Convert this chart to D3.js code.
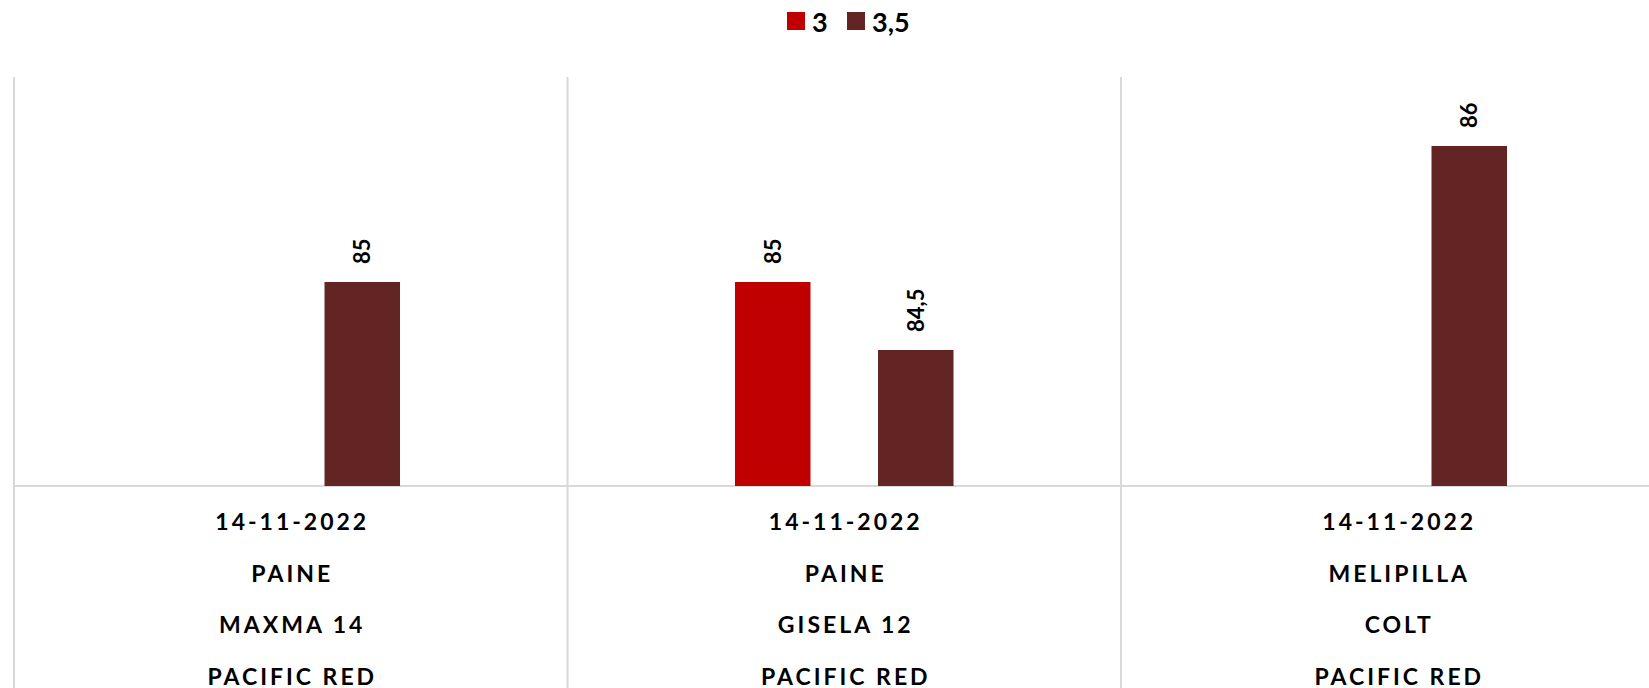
<!DOCTYPE html>
<html>
<head>
<meta charset="utf-8">
<script src="https://cdn.jsdelivr.net/npm/d3@7"></script>
<style>
  body { margin: 0; background: #fff; }
  text { font-family: Lato, "Noto Sans", sans-serif; font-weight: bold; fill: #000; }
</style>
</head>
<body>
<div id="chart"></div>
<script>
// categorias (4 lineas de etiqueta cada una)
var fechas = ['14-11-2022', '14-11-2022', '14-11-2022']
var localidades = ['PAINE', 'PAINE', 'MELIPILLA']
var portainjertos = ['MAXMA 14', 'GISELA 12', 'COLT']
var variedades = ['PACIFIC RED', 'PACIFIC RED', 'PACIFIC RED']

var series = ['3', '3,5']
var valores3 = [null, 85, null]
var valores35 = [85, 84.5, 86]
var colores = ['#C00000', '#632523']

var w = 1649
var h = 688
var margin = {top: 78, left: 14, bottom: 486}
var step = 553.5

var svg = d3.select('#chart')
    .append('svg')
    .attr('width', w)
    .attr('height', h)

var cats = d3.range(fechas.length)

var x0 = d3.scaleBand()
    .domain(cats)
    .range([margin.left, margin.left + step * cats.length])
    .padding(0)

var x1 = d3.scaleBand()
    .domain(series)
    .range([0, x0.bandwidth()])
    .paddingInner(0.472)
    .paddingOuter(1.171)

var y = d3.scaleLinear()
    .domain([83.5, 86.5])
    .range([margin.bottom, margin.top])

var z = d3.scaleOrdinal().domain(series).range(colores)

// lineas de division verticales
var bounds = cats.map(function(c) {return x0(c)})
svg.selectAll('.divider')
  .data(bounds)
  .enter().append('line')
    .attr('class', 'divider')
    .attr('x1', function(d) {return d})
    .attr('x2', function(d) {return d})
    .attr('y1', y.range()[1] - 1)
    .attr('y2', h)
    .attr('stroke', '#d9d9d9')
    .attr('stroke-width', 2)

// linea base
svg.append('line')
    .attr('x1', margin.left)
    .attr('x2', w)
    .attr('y1', y(83.5))
    .attr('y2', y(83.5))
    .attr('stroke', '#d9d9d9')
    .attr('stroke-width', 2)

var data = []
cats.forEach(function(c) {
  data.push({cat: c, serie: '3', value: valores3[c]})
  data.push({cat: c, serie: '3,5', value: valores35[c]})
})
data = data.filter(function(d) {return d.value != null})

svg.selectAll('.bar')
  .data(data)
  .enter().append('rect')
    .attr('class', 'bar')
    .attr('x', function(d) {return x0(d.cat) + x1(d.serie)})
    .attr('width', x1.bandwidth())
    .attr('y', function(d) {return y(d.value)})
    .attr('height', function(d) {return y(83.5) - y(d.value)})
    .attr('fill', function(d) {return z(d.serie)})

svg.selectAll('.label')
  .data(data)
  .enter().append('text')
    .attr('class', 'label')
    .attr('transform', function(d) {
      return 'translate(' + (x0(d.cat) + x1(d.serie) + x1.bandwidth() / 2) + ',' + (y(d.value) - 18) + ') rotate(-90)'
    })
    .attr('dy', '0.36em')
    .style('font-size', '22px')
    .text(function(d) {return String(d.value).replace('.', ',')})

// etiquetas de categoria
var lineas = [fechas, localidades, portainjertos, variedades]
lineas.forEach(function(arr, i) {
  svg.selectAll('.cat' + i)
    .data(cats)
    .enter().append('text')
      .attr('class', 'cat' + i)
      .attr('x', function(c) {return x0(c) + x0.bandwidth() / 2 + 1.5})
      .attr('y', y(83.5) + 35 + i * 51.5)
      .attr('text-anchor', 'middle')
      .attr('dominant-baseline', 'central')
      .style('font-size', '23px')
      .style('letter-spacing', '3px')
      .text(function(c) {return arr[c]})
})

// leyenda
var legend = svg.append('g').attr('transform', 'translate(787,12)')
var lx = [0, 60]
var item = legend.selectAll('.item')
  .data(series)
  .enter().append('g')
    .attr('class', 'item')
    .attr('transform', function(d, i) {return 'translate(' + lx[i] + ',0)'})
item.append('rect')
    .attr('width', 18)
    .attr('height', 18)
    .attr('fill', function(d) {return z(d)})
item.append('text')
    .attr('x', 25)
    .attr('y', 9)
    .attr('dominant-baseline', 'central')
    .style('font-size', '27px')
    .text(function(d) {return d})
</script>
</body>
</html>
